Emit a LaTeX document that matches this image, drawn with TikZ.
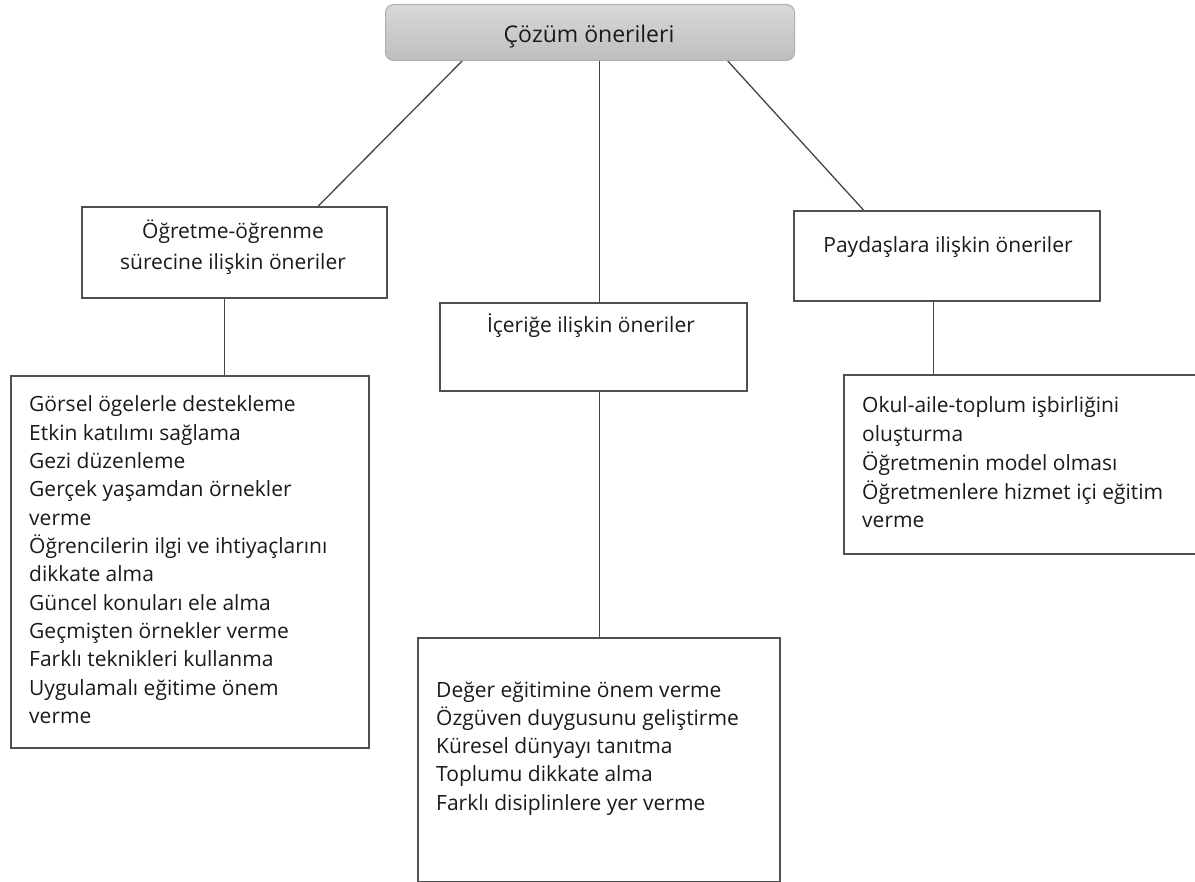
\documentclass[tikz,border=0pt]{standalone}
\usepackage{fontspec}
\setmainfont{Open Sans}
\usetikzlibrary{calc}
\definecolor{edgec}{HTML}{444444}
\definecolor{boxc}{HTML}{505050}
\definecolor{textc}{HTML}{1A1A1A}
\definecolor{topc}{HTML}{D8D8D8}
\definecolor{botc}{HTML}{BEBEBE}
\definecolor{rootb}{HTML}{AFAFAF}
\begin{document}
\begin{tikzpicture}[x=1pt,y=-1pt,
  box/.style={draw=boxc, line width=1.6pt, inner sep=0pt, anchor=north west, fill=white},
  conn/.style={draw=edgec, line width=1.3pt},
  txt/.style={inner sep=0pt, anchor=base west, font=\fontsize{21}{28}\selectfont, text=textc},
  hdr/.style={inner sep=0pt, anchor=base, font=\fontsize{21}{28}\selectfont, text=textc}]
\useasboundingbox (0,0) rectangle (1195,882);
% boxes
\node[box, draw=rootb, line width=1pt, rounded corners=8pt, top color=topc, bottom color=botc,
  minimum width=409pt, minimum height=56pt] (root) at (385,4) {};
\node[box, minimum width=305pt, minimum height=91pt] (lb) at (81,206) {};
\node[box, minimum width=358pt, minimum height=372pt] (ll) at (10,375) {};
\node[box, minimum width=307pt, minimum height=88pt] (cb) at (439,302) {};
\node[box, minimum width=362pt, minimum height=244pt] (cl) at (417,637) {};
\node[box, minimum width=306pt, minimum height=90pt] (rb) at (793,210) {};
\node[box, minimum width=380pt, minimum height=179pt] (rl) at (843,374) {};
% connector points
\coordinate (r1) at ($(root.south west)!0.188!(root.south east)$);
\coordinate (r3) at ($(root.south west)!0.836!(root.south east)$);
\coordinate (c1) at ($(cb.north west)!0.52!(cb.north east)$);
\coordinate (l1) at ($(lb.south west)!0.469!(lb.south east)$);
\coordinate (p1) at ($(rb.south west)!0.4575!(rb.south east)$);
% connectors
\draw[conn] (r1) -- ($(lb.north west)!0.774!(lb.north east)$);
\draw[conn] (r3) -- ($(rb.north west)!0.229!(rb.north east)$);
\draw[conn] (c1 |- root.south) -- (c1);
\draw[conn] (cb.south -| c1) -- (cl.north -| c1);
\draw[conn] (l1) -- (l1 |- ll.north);
\draw[conn] (p1) -- (p1 |- rl.north);
% texts
\node[hdr, font=\fontsize{23}{28}\selectfont] (rootT) at (589,43) {Çözüm önerileri};
\node[hdr] (lbT1) at (233,239) {Öğretme-öğrenme};
\node[hdr] (lbT2) at (233,270) {sürecine ilişkin öneriler};
\node[hdr] (cbT) at (591,333) {İçeriğe ilişkin öneriler};
\node[hdr] (rbT) at (948,253) {Paydaşlara ilişkin öneriler};
\foreach \t [count=\i from 0] in {Görsel ögelerle destekleme, Etkin katılımı sağlama, Gezi düzenleme,
  Gerçek yaşamdan örnekler, verme, Öğrencilerin ilgi ve ihtiyaçlarını, dikkate alma,
  Güncel konuları ele alma, Geçmişten örnekler verme, Farklı teknikleri kullanma,
  Uygulamalı eğitime önem, verme}
  \node[txt] (llT\i) at (29,{412+28.3*\i}) {\t};
\foreach \t [count=\i from 0] in {Değer eğitimine önem verme, Özgüven duygusunu geliştirme,
  Küresel dünyayı tanıtma, Toplumu dikkate alma, Farklı disiplinlere yer verme}
  \node[txt] (clT\i) at (436,{697+28.3*\i}) {\t};
\foreach \t [count=\i from 0] in {Okul-aile-toplum işbirliğini, oluşturma, Öğretmenin model olması,
  Öğretmenlere hizmet içi eğitim, verme}
  \node[txt] (rlT\i) at (862,{413+28.7*\i}) {\t};
\end{tikzpicture}
\end{document}
